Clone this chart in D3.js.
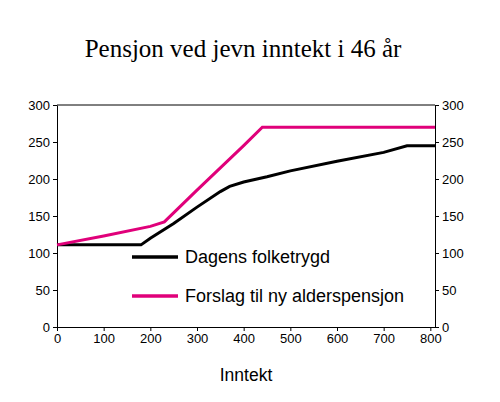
<!DOCTYPE html>
<html><head><meta charset="utf-8">
<script src="https://cdn.jsdelivr.net/npm/d3@7"></script>
<style>body{margin:0;background:#fff}</style></head>
<body><svg id="chart" width="500" height="402"></svg>
<script>
var incomeBlack = [0, 180, 200, 250, 300, 350, 370, 400, 450, 500, 600, 700, 750, 810],
    dagens      = [111, 111, 120, 140, 162, 183, 190, 196, 203, 211, 224, 236, 245, 245];
var incomePink  = [0, 100, 200, 230, 300, 350, 400, 440, 810],
    forslag     = [111, 123, 136, 142, 185, 215, 245, 270, 270];
var xTicks = [0, 100, 200, 300, 400, 500, 600, 700, 800],
    yTicks = [0, 50, 100, 150, 200, 250, 300];

var svg = d3.select('#chart'),
    margin = {top: 105, right: 65, bottom: 75, left: 57},
    width = 500 - margin.left - margin.right,
    height = 402 - margin.top - margin.bottom,
    g = svg.append('g').attr('transform', `translate(${margin.left}, ${margin.top})`);

var x = d3.scaleLinear().domain([0, 810]).range([0, width]),
    y = d3.scaleLinear().domain([0, 300]).range([height, 0]);

svg.append('text').attr('x', 243).attr('y', 57).attr('text-anchor', 'middle')
  .attr('font-family', 'Liberation Serif').attr('font-size', 25).text('Pensjon ved jevn inntekt i 46 år');

function styleAxis(a) {
  a.selectAll('text').attr('font-family', 'Liberation Sans').attr('font-size', 13).attr('fill', '#000');
  a.selectAll('path,line').attr('stroke', '#000');
}

g.append('g').attr('transform', `translate(0, ${height})`)
  .call(d3.axisBottom(x).tickValues(xTicks).tickSize(4).tickSizeOuter(0)).call(styleAxis);
g.append('g').call(d3.axisLeft(y).tickValues(yTicks).tickSize(4).tickSizeOuter(0)).call(styleAxis);
g.append('g').attr('transform', `translate(${width}, 0)`)
  .call(d3.axisRight(y).tickValues(yTicks).tickSize(4).tickSizeOuter(0)).call(styleAxis);
g.append('line').attr('x1', 0).attr('x2', width).attr('y1', 0).attr('y2', 0).attr('stroke', '#000');

var line = d3.line().x(d => x(d[0])).y(d => y(d[1]));
g.append('path').datum(d3.zip(incomeBlack, dagens)).attr('fill', 'none')
  .attr('stroke', '#000').attr('stroke-width', 3).attr('d', line);
g.append('path').datum(d3.zip(incomePink, forslag)).attr('fill', 'none')
  .attr('stroke', '#e0007a').attr('stroke-width', 3).attr('d', line);

var legend = [['Dagens folketrygd', '#000', 257], ['Forslag til ny alderspensjon', '#e0007a', 296]];
legend.forEach(function(l) {
  svg.append('line').attr('x1', 132).attr('x2', 178).attr('y1', l[2]).attr('y2', l[2])
    .attr('stroke', l[1]).attr('stroke-width', 3.5);
  svg.append('text').attr('x', 185).attr('y', l[2] + 6).attr('font-family', 'Liberation Sans')
    .attr('font-size', 18).text(l[0]);
});

svg.append('text').attr('x', 246).attr('y', 381).attr('text-anchor', 'middle')
  .attr('font-family', 'Liberation Sans').attr('font-size', 17.5).text('Inntekt');
</script></body></html>
